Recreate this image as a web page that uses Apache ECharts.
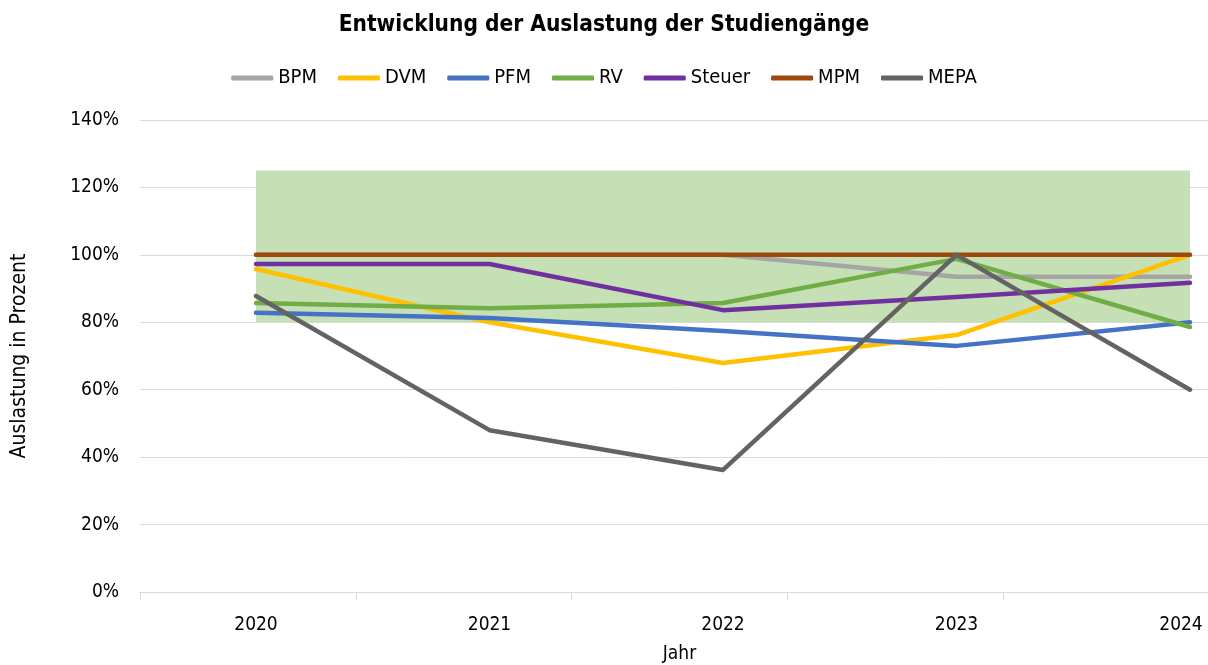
<!DOCTYPE html>
<html>
<head>
<meta charset="utf-8">
<script src="https://cdn.jsdelivr.net/npm/echarts@6/dist/echarts.min.js"></script>
<style>
  html, body { margin: 0; padding: 0; background: #fff; }
  #chart { width: 1208px; height: 665px; }
</style>
</head>
<body>
<div id="chart"></div>
<script>
// Jahre und Auslastung (in %) je Studiengang
const years = ['2020', '2021', '2022', '2023', '2024'];
const bpm    = [100, 100, 100, 93.5, 93.5];
const dvm    = [95.8, 80, 67.9, 76.2, 100];
const pfm    = [82.8, 81.3, 77.4, 73, 80];
const rv     = [85.7, 84.2, 85.7, 98.8, 78.6];
const steuer = [97.3, 97.3, 83.6, 87.5, 91.7];
const mpm    = [100, 100, 100, 100, 100];
const mepa   = [87.8, 48, 36.2, 100, 60];
const yTicks = [0, 20, 40, 60, 80, 100, 120, 140];
const zielBereich = [80, 125];

const font = '"Liberation Sans Narrow", "DejaVu Sans Condensed", "Roboto", sans-serif';
const chart = echarts.init(document.getElementById('chart'));

const names = ['BPM', 'DVM', 'PFM', 'RV', 'Steuer', 'MPM', 'MEPA'];
const values = [bpm, dvm, pfm, rv, steuer, mpm, mepa];
const colors = ['#A5A5A5', '#FFC000', '#4472C4', '#70AD47', '#7030A0', '#9E480E', '#636363'];

const series = names.map((n, i) => ({
  name: n,
  type: 'line',
  xAxisIndex: 1,
  yAxisIndex: 1,
  data: values[i],
  symbol: 'none',
  lineStyle: { width: 4.5, color: colors[i], cap: 'round', join: 'round' },
  itemStyle: { color: colors[i] },
  z: 3 + i
}));

// gruener Zielbereich
series[0].markArea = {
  silent: true,
  itemStyle: { color: '#C5E0B4' },
  data: [[
    { xAxis: years[0], yAxis: zielBereich[0] },
    { xAxis: years[years.length - 1], yAxis: zielBereich[1] }
  ]]
};

const option = {
  animation: false,
  textStyle: { fontFamily: font },
  title: {
    text: 'Entwicklung der Auslastung der Studiengänge',
    left: 'center',
    top: 9,
    textStyle: { fontFamily: font, fontSize: 22.5, fontWeight: 'bold', color: '#000' }
  },
  legend: {
    top: 63,
    left: 'center',
    data: names,
    icon: 'roundRect',
    itemWidth: 42,
    itemHeight: 5,
    itemGap: 21,
    textStyle: { fontFamily: font, fontSize: 20, color: '#000' }
  },
  grid: [
    { left: 140, width: 1079, top: 120, bottom: 73, outerBoundsMode: 'none' },
    { left: 256, right: 18, top: 120, bottom: 73, outerBoundsMode: 'none' }
  ],
  xAxis: [
    {
      type: 'category',
      gridIndex: 0,
      data: years,
      boundaryGap: true,
      axisLine: { lineStyle: { color: '#D9D9D9' } },
      axisTick: { show: true, length: 8, lineStyle: { color: '#D9D9D9' } },
      axisLabel: { show: false },
      name: 'Jahr',
      nameLocation: 'middle',
      nameGap: 53,
      nameTextStyle: { fontFamily: font, fontSize: 19, color: '#000' }
    },
    {
      type: 'category',
      gridIndex: 1,
      data: years,
      boundaryGap: false,
      axisLine: { show: false },
      axisTick: { show: false },
      axisLabel: {
        fontFamily: font, fontSize: 19, color: '#000', margin: 24,
        formatter: (v, i) => i === years.length - 1 ? '{last|' + v + '}' : v,
        rich: { last: { fontFamily: font, fontSize: 19, color: '#000', padding: [0, 18, 0, 0] } }
      }
    }
  ],
  yAxis: [
    {
      type: 'value',
      gridIndex: 0,
      min: yTicks[0],
      max: yTicks[yTicks.length - 1],
      interval: 20,
      axisLine: { show: false },
      axisTick: { show: false },
      splitLine: { lineStyle: { color: '#D9D9D9', width: 1 } },
      axisLabel: { fontFamily: font, fontSize: 19, color: '#000', margin: 21, formatter: '{value}%' },
      name: 'Auslastung in Prozent',
      nameLocation: 'middle',
      nameGap: 110,
      nameTextStyle: { fontFamily: font, fontSize: 21, color: '#000' }
    },
    {
      type: 'value',
      gridIndex: 1,
      min: yTicks[0],
      max: yTicks[yTicks.length - 1],
      interval: 20,
      show: false
    }
  ],
  series: series
};

chart.setOption(option);
</script>
</body>
</html>
